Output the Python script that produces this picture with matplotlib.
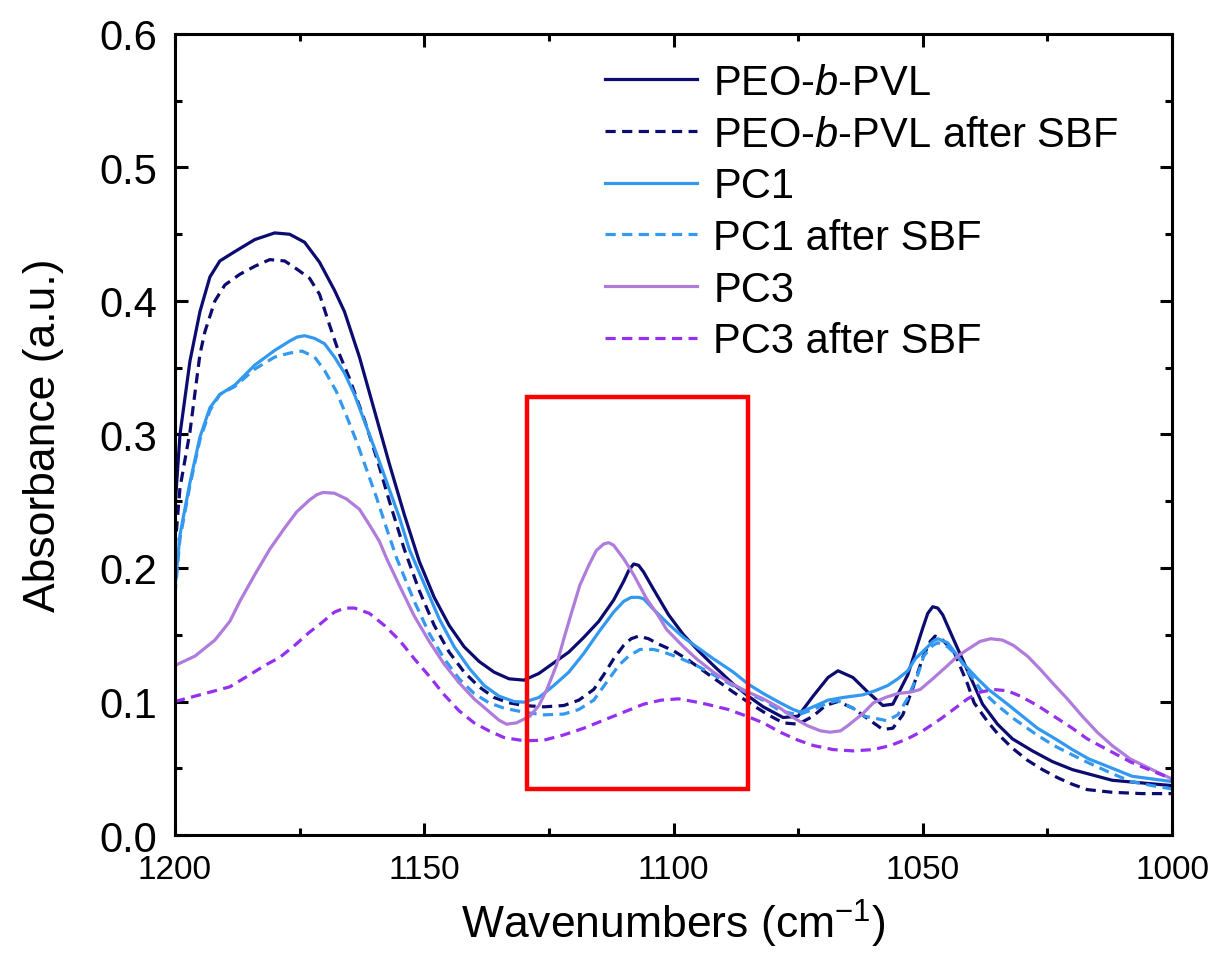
import matplotlib
matplotlib.use("Agg")
import matplotlib.pyplot as plt
from matplotlib.patches import Rectangle
from matplotlib.ticker import MultipleLocator, FormatStrFormatter

plt.rcParams['font.family'] = ['Liberation Sans', 'DejaVu Sans']
plt.rcParams['mathtext.fontset'] = 'custom'
plt.rcParams['mathtext.rm'] = 'Liberation Sans'
plt.rcParams['mathtext.it'] = 'Liberation Sans:italic'
plt.rcParams['mathtext.bf'] = 'Liberation Sans:bold'

# ---------------- data ----------------
peo_w = [1200, 1199, 1197, 1195, 1193, 1191, 1188, 1184, 1180, 1177, 1174, 1171, 1168, 1166,
         1163, 1160, 1157, 1154, 1151, 1148, 1145, 1142, 1139, 1136, 1133, 1130, 1127, 1124,
         1121, 1118, 1115, 1112, 1110, 1109, 1108, 1107, 1106, 1104, 1101, 1098, 1095, 1092,
         1088, 1085, 1082, 1078, 1075, 1072, 1069, 1067, 1064, 1061, 1058, 1056, 1053, 1050,
         1049, 1048, 1047, 1046, 1044, 1041, 1038, 1035, 1032, 1028, 1024, 1020, 1016, 1012,
         1006, 1000]
peo_a = [0.245, 0.300, 0.355, 0.392, 0.418, 0.430, 0.437, 0.446, 0.451, 0.450, 0.444, 0.429,
         0.408, 0.392, 0.358, 0.318, 0.278, 0.240, 0.205, 0.178, 0.157, 0.141, 0.130, 0.122,
         0.117, 0.116, 0.121, 0.129, 0.137, 0.148, 0.160, 0.176, 0.190, 0.198, 0.203, 0.202,
         0.197, 0.184, 0.165, 0.150, 0.138, 0.127, 0.113, 0.104, 0.096, 0.088, 0.089, 0.104,
         0.118, 0.123, 0.118, 0.107, 0.097, 0.098, 0.120, 0.155, 0.166, 0.171, 0.170, 0.165,
         0.148, 0.123, 0.098, 0.083, 0.072, 0.063, 0.055, 0.049, 0.045, 0.041, 0.039, 0.037]

peo_sbf_w = [1200, 1199, 1197, 1195, 1194, 1192, 1190, 1187, 1184, 1181, 1178, 1175.6, 1173,
             1171, 1169, 1167, 1165, 1162, 1159.5, 1157, 1154, 1151, 1148, 1145, 1142, 1139,
             1136, 1133, 1130, 1126, 1122, 1119, 1116, 1114, 1112, 1110, 1108.5, 1107, 1105,
             1103, 1100, 1097, 1094, 1091, 1088, 1084, 1081, 1078, 1075, 1072, 1069.5, 1067,
             1064, 1061, 1058, 1056, 1054, 1052, 1050, 1048.5, 1047.5, 1046, 1043.7, 1041,
             1039.7, 1037, 1035, 1032, 1029, 1026, 1023, 1020, 1017, 1012, 1006, 1000]
peo_sbf_a = [0.215, 0.260, 0.302, 0.360, 0.377, 0.400, 0.412, 0.420, 0.426, 0.431, 0.430,
             0.424, 0.417, 0.405, 0.382, 0.360, 0.342, 0.311, 0.282, 0.250, 0.214, 0.183,
             0.157, 0.137, 0.122, 0.111, 0.103, 0.099, 0.097, 0.096, 0.097, 0.101, 0.109,
             0.120, 0.132, 0.142, 0.147, 0.149, 0.147, 0.143, 0.138, 0.131, 0.123, 0.115,
             0.107, 0.097, 0.090, 0.084, 0.083, 0.089, 0.097, 0.100, 0.095, 0.087, 0.079,
             0.080, 0.090, 0.110, 0.133, 0.145, 0.149, 0.146, 0.137, 0.113, 0.099, 0.085,
             0.076, 0.065, 0.056, 0.049, 0.043, 0.038, 0.034, 0.032, 0.031, 0.031]

pc1_w = [1200, 1199, 1197, 1195, 1193, 1191, 1188, 1184, 1180, 1177, 1175.5, 1174, 1172, 1170,
         1168, 1166, 1164, 1162, 1160, 1157.5, 1155, 1153, 1150, 1147, 1144, 1141, 1138, 1135,
         1132, 1130, 1127, 1124, 1121, 1118, 1115, 1112, 1110, 1108.5, 1107, 1106, 1104, 1101,
         1098, 1095, 1092, 1088, 1085, 1082, 1078.6, 1076, 1074.5, 1072, 1069, 1066, 1062,
         1059.6, 1057, 1055, 1053, 1051.5, 1049, 1048, 1047, 1045, 1042, 1039, 1036.8, 1033,
         1030, 1027, 1023.4, 1020, 1016.7, 1012, 1008, 1004, 1000]
pc1_a = [0.185, 0.225, 0.264, 0.298, 0.320, 0.330, 0.337, 0.352, 0.363, 0.370, 0.373, 0.374,
         0.372, 0.368, 0.358, 0.346, 0.330, 0.310, 0.290, 0.264, 0.238, 0.214, 0.188, 0.162,
         0.141, 0.125, 0.112, 0.104, 0.100, 0.0995, 0.103, 0.112, 0.122, 0.136, 0.152, 0.167,
         0.175, 0.178, 0.178, 0.177, 0.169, 0.158, 0.148, 0.140, 0.132, 0.122, 0.113, 0.106,
         0.099, 0.094, 0.092, 0.096, 0.101, 0.103, 0.105, 0.108, 0.112, 0.117, 0.123, 0.132,
         0.141, 0.145, 0.147, 0.144, 0.129, 0.117, 0.109, 0.098, 0.089, 0.080, 0.072, 0.064,
         0.057, 0.050, 0.044, 0.042, 0.040]

pc1_sbf_w = [1200, 1199, 1197, 1195, 1193, 1191, 1188, 1184, 1180, 1177, 1174.5, 1172, 1170,
             1167.6, 1165.5, 1163.5, 1161.5, 1159.5, 1157.5, 1155.5, 1152, 1149, 1146, 1143,
             1140, 1137, 1134, 1130, 1126, 1122, 1119, 1116, 1113.5, 1111, 1109, 1106.7, 1104,
             1102, 1099, 1095.4, 1091, 1086.7, 1082, 1078.6, 1075, 1072, 1069, 1067, 1064,
             1061.7, 1059, 1057.2, 1055, 1053.1, 1051, 1049.8, 1048, 1047, 1045, 1043, 1040.5,
             1038.4, 1035, 1031.7, 1027.5, 1023.7, 1020, 1017, 1012, 1008.2, 1004, 1000]
pc1_sbf_a = [0.180, 0.222, 0.262, 0.296, 0.318, 0.330, 0.336, 0.349, 0.358, 0.361, 0.3625,
             0.358, 0.348, 0.332, 0.313, 0.294, 0.273, 0.252, 0.229, 0.207, 0.175, 0.151,
             0.132, 0.117, 0.106, 0.099, 0.095, 0.092, 0.090, 0.0906, 0.094, 0.101, 0.114,
             0.127, 0.134, 0.139, 0.139, 0.137, 0.133, 0.127, 0.118, 0.109, 0.101, 0.093,
             0.090, 0.094, 0.099, 0.1006, 0.095, 0.089, 0.087, 0.0856, 0.090, 0.102, 0.120,
             0.134, 0.142, 0.144, 0.141, 0.134, 0.120, 0.109, 0.097, 0.087, 0.076, 0.067,
             0.060, 0.0545, 0.046, 0.040, 0.037, 0.0345]

pc3_w = [1200, 1196, 1192, 1189, 1187, 1184, 1181, 1178, 1175.6, 1173, 1171.5, 1170.3, 1168,
         1165.6, 1163, 1160.9, 1159, 1157.5, 1155, 1152, 1149, 1146, 1143, 1140, 1137.5, 1135,
         1133.5, 1131.5, 1128.8, 1127, 1125.4, 1123.5, 1122, 1120.5, 1118.8, 1117, 1115.5, 1114,
         1113, 1112, 1110, 1108, 1105.4, 1103, 1101.4, 1098, 1095.4, 1092, 1088.7, 1085, 1082,
         1078.6, 1076, 1073.2, 1070.5, 1068.6, 1066.5, 1065, 1062, 1059.9, 1057.5, 1055, 1052.5,
         1050.5, 1048, 1045, 1043, 1041, 1038.5, 1036.4, 1034, 1031.8, 1029, 1026.4, 1024, 1021,
         1018, 1015, 1012, 1008.4, 1004, 1000]
pc3_a = [0.127, 0.134, 0.146, 0.160, 0.175, 0.195, 0.214, 0.230, 0.242, 0.251, 0.255, 0.2566,
         0.256, 0.2517, 0.244, 0.2317, 0.220, 0.2067, 0.187, 0.164, 0.145, 0.128, 0.114, 0.102,
         0.094, 0.086, 0.083, 0.084, 0.089, 0.097, 0.109, 0.127, 0.147, 0.166, 0.187, 0.202,
         0.213, 0.218, 0.219, 0.217, 0.207, 0.195, 0.177, 0.164, 0.154, 0.141, 0.132, 0.122,
         0.114, 0.107, 0.102, 0.095, 0.088, 0.082, 0.078, 0.077, 0.078, 0.082, 0.091, 0.099,
         0.103, 0.106, 0.107, 0.109, 0.117, 0.127, 0.134, 0.139, 0.145, 0.147, 0.146, 0.142,
         0.134, 0.124, 0.114, 0.102, 0.089, 0.077, 0.067, 0.057, 0.049, 0.042]

pc3_sbf_w = [1200, 1196, 1192, 1189, 1185, 1182, 1179, 1176, 1173, 1170.9, 1168, 1166, 1164,
             1161, 1158, 1155, 1152, 1149, 1146, 1143, 1140, 1137, 1134, 1130, 1126, 1122, 1118,
             1114, 1110, 1106, 1102.5, 1099, 1096, 1093.4, 1089, 1085.3, 1082, 1078.6, 1075,
             1071.9, 1068, 1064, 1059.9, 1056.5, 1053.1, 1050, 1046.4, 1043.5, 1041, 1038.5,
             1035.7, 1033, 1030.4, 1027, 1023.7, 1020, 1017, 1012.5, 1008.2, 1004, 1000]
pc3_sbf_a = [0.100, 0.104, 0.108, 0.111, 0.120, 0.127, 0.133, 0.142, 0.152, 0.158, 0.167,
             0.170, 0.170, 0.166, 0.157, 0.146, 0.132, 0.119, 0.105, 0.093, 0.084, 0.078,
             0.073, 0.0706, 0.071, 0.075, 0.080, 0.086, 0.092, 0.098, 0.101, 0.102, 0.100,
             0.098, 0.094, 0.089, 0.084, 0.077, 0.071, 0.067, 0.064, 0.063, 0.064, 0.067,
             0.072, 0.078, 0.087, 0.095, 0.102, 0.107, 0.109, 0.108, 0.104, 0.097, 0.089,
             0.080, 0.072, 0.063, 0.0545, 0.048, 0.042]

labels = ["PEO-$\\it{b}$-PVL", "PEO-$\\it{b}$-PVL after SBF", "PC1", "PC1 after SBF",
          "PC3", "PC3 after SBF"]

# highlighted region (wavenumber range, absorbance range)
box_w = (1085.1, 1129.4)
box_a = (0.0345, 0.328)

# ---------------- plot ----------------
fig = plt.figure(figsize=(12.12, 9.62), dpi=100)
ax = fig.add_axes([175/1212, 1-836/962, (1172-175)/1212, (836-35)/962])

navy = "#0b0b70"
blue = "#3399f0"
lilac = "#b07cdc"
violet = "#9530f0"
lw = 2.3
dash = (3.2, 2.0)

ax.plot(peo_w, peo_a, color=navy, lw=lw, label=labels[0])
ax.plot(peo_sbf_w, peo_sbf_a, color=navy, lw=lw, ls=(0, dash), label=labels[1])
ax.plot(pc1_w, pc1_a, color=blue, lw=lw, label=labels[2])
ax.plot(pc1_sbf_w, pc1_sbf_a, color=blue, lw=lw, ls=(0, dash), label=labels[3])
ax.plot(pc3_w, pc3_a, color=lilac, lw=lw, label=labels[4])
ax.plot(pc3_sbf_w, pc3_sbf_a, color=violet, lw=lw, ls=(0, dash), label=labels[5])

ax.add_patch(Rectangle((box_w[0], box_a[0]), box_w[1]-box_w[0], box_a[1]-box_a[0],
                       fill=False, edgecolor="#ff0000", lw=3.2, zorder=5))

ax.set_xlim(1200, 1000)
ax.set_ylim(0, 0.6)
ax.xaxis.set_major_locator(MultipleLocator(50))
ax.xaxis.set_minor_locator(MultipleLocator(25))
ax.yaxis.set_major_locator(MultipleLocator(0.1))
ax.yaxis.set_minor_locator(MultipleLocator(0.05))
ax.yaxis.set_major_formatter(FormatStrFormatter('%.1f'))

for s in ax.spines.values():
    s.set_linewidth(2.2)
ax.tick_params(which='both', direction='in', top=True, right=True, width=2.2)
ax.tick_params(which='major', length=9)
ax.tick_params(which='minor', length=5)
ax.tick_params(axis='x', which='major', labelsize=24, pad=14)
ax.tick_params(axis='y', which='major', labelsize=30, pad=13)

ax.set_xlabel("Wavenumbers (cm$^{-1}$)", fontsize=32, labelpad=8)
ax.set_ylabel("Absorbance (a.u.)", fontsize=32, labelpad=25)

leg = ax.legend(loc='upper left', bbox_to_anchor=(605/1212, 1-64/962),
                bbox_transform=fig.transFigure, frameon=False, fontsize=30,
                handlelength=2.2, handletextpad=0.4, labelspacing=0.28,
                borderpad=0, borderaxespad=0)

fig.savefig("out.png", dpi=100)
